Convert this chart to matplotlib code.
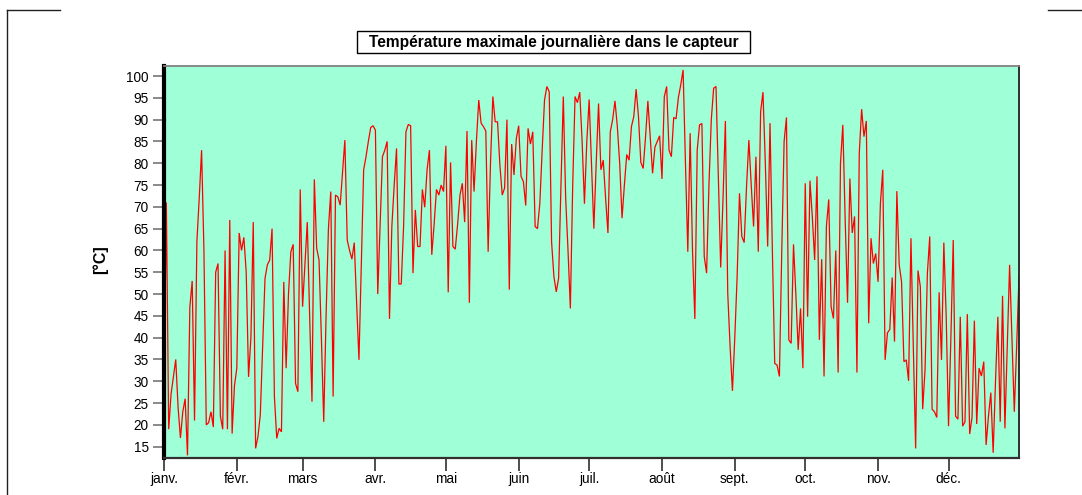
import matplotlib
matplotlib.use('Agg')
import matplotlib.pyplot as plt
from matplotlib.lines import Line2D
from matplotlib.patches import Rectangle
import numpy as np

plt.rcParams['font.family'] = ['Liberation Sans', 'DejaVu Sans']

title = "Température maximale journalière dans le capteur"
ylabel = "[°C]"
month_labels = ['janv.', 'févr.', 'mars', 'avr.', 'mai', 'juin',
                'juil.', 'août', 'sept.', 'oct.', 'nov.', 'déc.']
month_start_days = [0, 31, 59, 90, 120, 151, 181, 212, 243, 273, 304, 334]
y_ticks = list(range(15, 101, 5))

jan = [27, 71, 19, 27, 31, 35, 24, 17, 23, 26, 13, 47, 53, 21, 62, 72, 83, 60,
       20, 20.5, 23, 19.5, 55, 57, 22, 19, 60, 19, 67, 18, 29]
feb = [33, 64, 60, 63, 55, 31, 40, 66.5, 14.6, 17.3, 22.3, 38, 53.6, 56.7,
       57.8, 65, 26.5, 16.9, 19.2, 18.4, 52.8, 33, 50, 59.7, 61.4, 29.5, 27.6, 74]
mar = [47.1, 57, 66.5, 45, 25.3, 76.3, 60.5, 57.8, 40, 20.7, 45, 65, 73.5, 26.5,
       72.7, 72.3, 70.4, 78, 85.3, 62.4, 60, 58, 61.8, 48, 34.9, 57, 78.5, 81.5,
       85, 88.2, 88.6]
apr = [87.6, 50, 65.5, 81.5, 83, 85, 44.3, 65.5, 75, 83.4, 52.3, 52.3, 65.5,
       87.2, 88.9, 88.6, 54.8, 69.3, 60.9, 60.9, 74, 69.9, 78.5, 83, 59, 66, 74,
       72.7, 75, 73.5]
may = [84, 50.4, 80.2, 60.9, 60.3, 66, 72.7, 75.4, 66.5, 87.4, 48, 85.3, 73.5,
       85, 94.5, 89.2, 88.4, 87.4, 59.7, 80, 95.3, 89.5, 89.5, 79.6, 72.7, 74.3,
       90, 51, 84.4, 77.3, 85.7]
jun = [88.6, 77, 75.8, 70.3, 88, 84.4, 87.2, 65.5, 65, 70.8, 83, 94.5, 97.6,
       96.4, 62, 54, 50.5, 53.6, 75, 95.3, 72, 60, 46.7, 75, 95.3, 93.9, 96.3,
       85, 70.7, 85]
jul = [94.6, 80, 65, 80, 93.7, 78.5, 80.7, 72, 64, 87.2, 90, 94.3, 88.4, 80,
       67.4, 75, 82, 80.7, 88.4, 90.7, 97, 90.7, 80.2, 78.8, 86, 94.3, 86, 77.7,
       83.7, 85, 86.3]
aug = [76.4, 95.3, 97.6, 83, 81.5, 90.5, 90.2, 95.1, 98, 101.4, 80, 59.7, 86.9,
       60, 44.3, 83, 88.8, 89.1, 58.6, 54.8, 75, 90, 97.2, 97.6, 77, 56.1, 72,
       89.7, 50.2, 38, 27.8]
sep = [40, 54, 73.1, 63.2, 61.8, 74.6, 85.3, 75, 65.5, 81.5, 59.7, 91.8, 96.3,
       80, 60.9, 89.2, 60, 34.1, 33.7, 31.1, 60, 85, 90.5, 39.5, 38.7, 61.4, 50,
       37.2, 46.7, 33]
oct_ = [75.4, 44.8, 76, 67.8, 57.8, 77, 39.5, 58, 31.1, 65.5, 71.7, 47.1, 44.4,
        60, 32, 80, 88.8, 67, 48, 76.5, 64, 67.8, 32, 82.3, 92.4, 86.1, 89.7,
        43.3, 62.8, 57, 59.3]
nov = [52.8, 70.8, 78.5, 34.9, 41.1, 41.9, 53.8, 39.1, 73.6, 56.7, 52.8, 34.5,
       34.9, 30.1, 62.8, 38, 14.6, 55.4, 51.7, 23.6, 32.7, 54.8, 63.2, 23.6, 23,
       21.7, 50.4, 34.9, 61.8, 45]
dec = [19.7, 40, 62.4, 22, 21.3, 44.8, 19.7, 20.7, 45.4, 17.9, 21.7, 43.9, 20.2,
       33, 31.2, 34.5, 15.4, 22, 27.4, 13.6, 30, 44.8, 20.7, 49.6, 19.2, 38, 56.7,
       40, 23, 38, 54]

temp = jan + feb + mar + apr + may + jun + jul + aug + sep + oct_ + nov + dec
days = np.arange(len(temp))

W, H = 1082, 495
fig = plt.figure(figsize=(W / 100, H / 100), dpi=100)
fig.patch.set_facecolor('white')

L, R, T, B = 164, 1019, 66, 458
ax = fig.add_axes([L / W, 1 - B / H, (R - L) / W, (B - T) / H])
ax.set_facecolor('#9FFFD7')
ax.plot(days, temp, color='#FF0000', lw=0.9, solid_joinstyle='miter')

ax.set_xlim(0, 364)
ax.set_ylim(12.4, 102.3)
ax.set_yticks(y_ticks)
ax.set_yticklabels([str(v) for v in y_ticks], fontsize=9.8)
ax.set_xticks(month_start_days)
ax.set_xticklabels(month_labels, fontsize=9.8)
ax.tick_params(axis='y', length=8, width=1.3, color='#808080', pad=3)
ax.tick_params(axis='x', length=9, width=1.3, color='#404040', pad=1)

ax.spines['left'].set_linewidth(3)
ax.spines['left'].set_color('black')
ax.spines['bottom'].set_linewidth(1.6)
ax.spines['bottom'].set_color('#303030')
ax.spines['top'].set_linewidth(1.3)
ax.spines['top'].set_color('#808080')
ax.spines['right'].set_linewidth(1.3)
ax.spines['right'].set_color('#202020')

fig.text(100 / W, 1 - 260 / H, ylabel, rotation=90, fontsize=11.5,
         fontweight='bold', ha='center', va='center')

# title box
bx0, bx1, by0, by1 = 357, 750, 31, 53
fig.add_artist(Rectangle((bx0 / W, 1 - by1 / H), (bx1 - bx0) / W, (by1 - by0) / H,
                         transform=fig.transFigure, facecolor='white',
                         edgecolor='black', lw=1))
fig.text(553.5 / W, 1 - 42 / H, title, fontsize=11.2, fontweight='bold',
         ha='center', va='center')

# frame corner lines
for (x0, y0, x1, y1) in [(7, 10, 60, 10), (7, 10, 7, 495), (1048, 10, 1082, 10)]:
    fig.add_artist(Line2D([x0 / W, x1 / W], [1 - y0 / H, 1 - y1 / H],
                          transform=fig.transFigure, color='#202020', lw=1))

fig.savefig('out.png', dpi=100)
